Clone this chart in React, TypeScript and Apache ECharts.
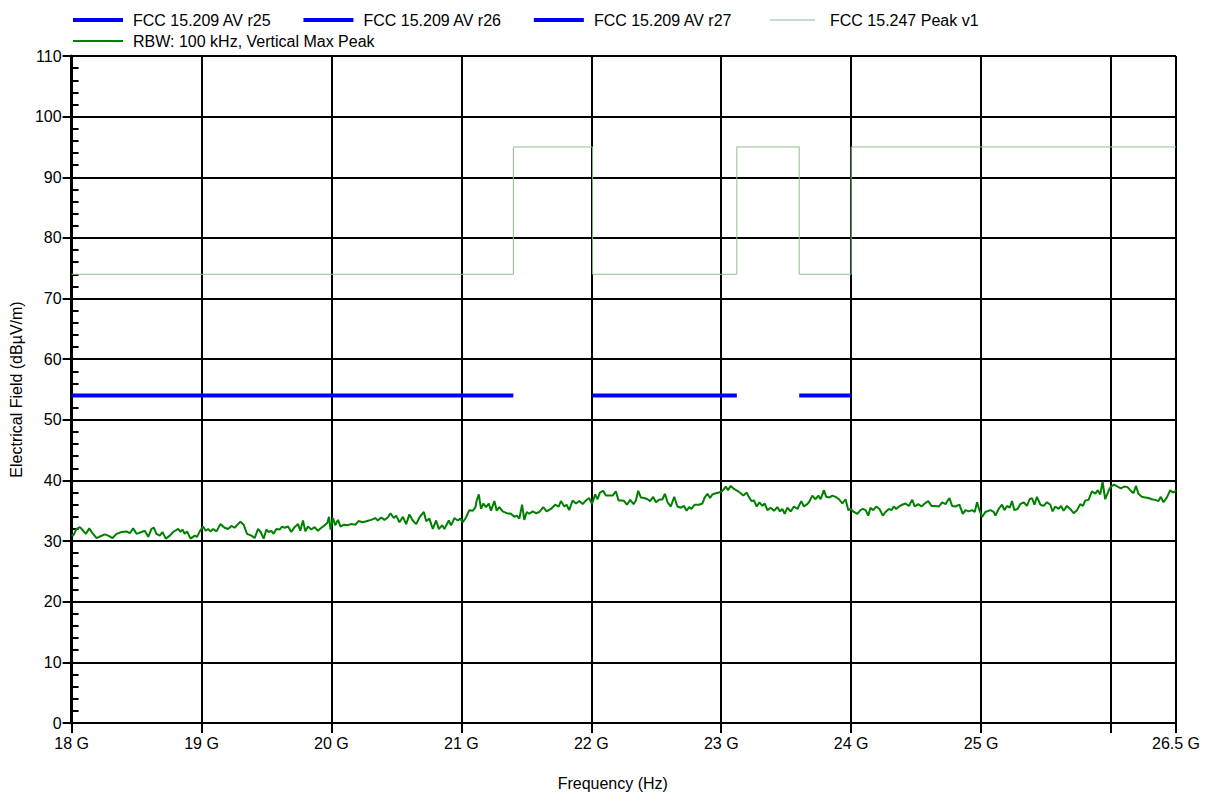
import React, { useEffect, useRef } from "react";
import * as echarts from "echarts";

const xMin = 18;
const xMax = 26.5;
const yMin = 0;
const yMax = 110;

const limitR25Freq = [18, 21.4];
const limitR26Freq = [22.01, 23.12];
const limitR27Freq = [23.6, 24.0];
const avLimit = 54;

const peakFreq = [18, 21.4, 21.4, 22.01, 22.01, 23.12, 23.12, 23.6, 23.6, 24.0, 24.0, 26.5];
const peakLevel = [74, 74, 95, 95, 74, 74, 95, 95, 74, 74, 95, 95];

const traceFreq = [
  18.0, 18.013, 18.038, 18.064, 18.09, 18.11, 18.136, 18.161, 18.192, 18.223, 18.256, 18.282, 18.315, 18.346, 18.384,
  18.423, 18.448, 18.474, 18.5, 18.538, 18.563, 18.59, 18.615, 18.633, 18.653, 18.679, 18.699, 18.725, 18.756, 18.782,
  18.82, 18.838, 18.853, 18.871, 18.889, 18.915, 18.948, 18.966, 18.986, 19.012, 19.032, 19.051, 19.068, 19.089, 19.115,
  19.145, 19.178, 19.204, 19.23, 19.255, 19.299, 19.324, 19.35, 19.384, 19.409, 19.435, 19.455, 19.478, 19.499, 19.517,
  19.537, 19.555, 19.576, 19.601, 19.62, 19.64, 19.666, 19.691, 19.716, 19.743, 19.76, 19.781, 19.799, 19.819, 19.845,
  19.87, 19.896, 19.922, 19.947, 19.968, 19.981, 19.993, 20.012, 20.029, 20.05, 20.07, 20.096, 20.121, 20.152, 20.183,
  20.208, 20.242, 20.275, 20.306, 20.337, 20.357, 20.383, 20.408, 20.434, 20.454, 20.48, 20.498, 20.523, 20.55, 20.575,
  20.6, 20.626, 20.652, 20.677, 20.711, 20.729, 20.754, 20.78, 20.806, 20.826, 20.852, 20.869, 20.903, 20.921, 20.946,
  20.972, 20.99, 21.011, 21.036, 21.061, 21.088, 21.108, 21.118, 21.134, 21.151, 21.169, 21.19, 21.211, 21.228, 21.254,
  21.272, 21.292, 21.318, 21.349, 21.382, 21.407, 21.426, 21.446, 21.467, 21.484, 21.503, 21.523, 21.549, 21.574, 21.6,
  21.63, 21.656, 21.689, 21.722, 21.749, 21.766, 21.792, 21.81, 21.83, 21.856, 21.882, 21.907, 21.933, 21.958, 21.984,
  22.005, 22.03, 22.048, 22.066, 22.091, 22.112, 22.138, 22.164, 22.189, 22.21, 22.235, 22.253, 22.274, 22.299, 22.325,
  22.343, 22.361, 22.381, 22.407, 22.433, 22.453, 22.476, 22.497, 22.522, 22.548, 22.566, 22.587, 22.612, 22.638, 22.663,
  22.689, 22.714, 22.733, 22.753, 22.771, 22.796, 22.829, 22.855, 22.873, 22.894, 22.914, 22.932, 22.958, 22.983, 23.009,
  23.035, 23.052, 23.073, 23.098, 23.124, 23.15, 23.17, 23.196, 23.214, 23.234, 23.252, 23.273, 23.294, 23.317, 23.334,
  23.355, 23.38, 23.406, 23.432, 23.452, 23.47, 23.488, 23.509, 23.534, 23.56, 23.586, 23.616, 23.636, 23.662, 23.675,
  23.701, 23.726, 23.747, 23.765, 23.79, 23.808, 23.834, 23.855, 23.88, 23.906, 23.932, 23.957, 23.978, 23.995, 24.021,
  24.047, 24.072, 24.09, 24.111, 24.131, 24.149, 24.17, 24.193, 24.218, 24.244, 24.264, 24.29, 24.31, 24.328, 24.347,
  24.367, 24.393, 24.418, 24.444, 24.47, 24.49, 24.516, 24.541, 24.566, 24.593, 24.618, 24.649, 24.674, 24.7, 24.726,
  24.756, 24.777, 24.802, 24.833, 24.859, 24.879, 24.905, 24.931, 24.951, 24.969, 24.987, 25.008, 25.033, 25.071, 25.097,
  25.11, 25.135, 25.161, 25.179, 25.2, 25.22, 25.238, 25.256, 25.281, 25.302, 25.327, 25.353, 25.373, 25.392, 25.41,
  25.43, 25.456, 25.481, 25.507, 25.533, 25.55, 25.571, 25.597, 25.615, 25.635, 25.661, 25.686, 25.712, 25.738, 25.763,
  25.784, 25.802, 25.827, 25.853, 25.879, 25.896, 25.917, 25.935, 25.955, 25.981, 25.999, 26.024, 26.05, 26.076, 26.101,
  26.127, 26.148, 26.173, 26.192, 26.211, 26.237, 26.263, 26.288, 26.314, 26.339, 26.365, 26.383, 26.404, 26.43, 26.456,
  26.476, 26.494, 26.5,
];

const traceLevel = [
  31.0, 30.9, 32.0, 32.3, 31.7, 31.2, 32.1, 31.3, 30.5, 30.8, 31.1, 30.9, 30.5, 31.2, 31.5,
  31.6, 31.3, 32.1, 31.2, 31.5, 31.7, 30.7, 32.0, 32.2, 31.2, 30.9, 31.5, 30.4, 30.9, 31.5,
  32.0, 31.5, 31.9, 31.2, 31.6, 30.4, 30.9, 30.7, 31.6, 32.4, 31.7, 32.0, 31.6, 32.0, 31.6,
  32.8, 32.2, 32.0, 32.5, 32.2, 33.2, 32.7, 31.2, 30.9, 30.5, 32.0, 31.5, 30.4, 31.9, 31.5,
  31.7, 31.2, 32.0, 31.9, 32.4, 32.2, 32.4, 31.5, 32.3, 32.8, 31.7, 33.4, 31.6, 32.4, 31.9,
  32.3, 31.7, 32.2, 32.6, 33.0, 34.0, 31.9, 33.8, 32.6, 33.5, 32.4, 32.7, 32.6, 32.8, 32.7,
  33.3, 33.1, 33.3, 33.5, 33.8, 33.4, 33.9, 33.5, 33.9, 34.6, 33.8, 34.2, 33.1, 34.0, 32.8,
  34.4, 33.4, 32.8, 33.9, 34.8, 33.3, 33.7, 32.0, 33.4, 32.0, 32.6, 32.0, 33.4, 32.6, 33.8,
  33.4, 33.7, 33.1, 33.9, 35.1, 35.0, 35.6, 36.7, 37.7, 35.3, 36.2, 35.6, 36.2, 35.0, 36.6,
  35.0, 35.6, 34.9, 34.6, 34.5, 34.0, 34.2, 33.7, 36.0, 33.5, 34.8, 34.5, 34.9, 34.6, 34.8,
  35.6, 34.9, 35.3, 36.0, 35.7, 36.6, 35.7, 36.0, 35.1, 36.7, 36.2, 36.6, 36.1, 36.7, 37.1,
  36.1, 37.7, 36.9, 38.0, 38.3, 37.5, 37.5, 37.5, 38.2, 36.7, 36.7, 36.6, 36.0, 36.8, 36.1,
  36.7, 38.3, 37.2, 37.1, 36.9, 36.6, 37.3, 36.4, 36.8, 36.9, 37.8, 36.4, 35.7, 37.3, 35.7,
  35.5, 35.8, 35.0, 35.6, 35.3, 36.0, 36.0, 36.2, 37.2, 37.8, 37.1, 37.7, 37.9, 38.0, 38.3,
  39.0, 38.4, 39.1, 38.6, 38.3, 37.9, 37.5, 38.0, 37.2, 36.6, 36.7, 35.7, 36.4, 35.8, 36.2,
  35.1, 35.5, 35.0, 35.6, 34.9, 35.3, 34.5, 35.5, 34.9, 35.7, 35.3, 36.6, 35.7, 36.1, 36.4,
  37.5, 36.9, 37.5, 36.9, 38.4, 37.3, 37.2, 37.5, 37.3, 36.9, 36.2, 36.9, 35.1, 35.3, 34.8,
  34.5, 35.1, 35.3, 35.1, 34.2, 35.5, 35.1, 35.7, 35.3, 34.2, 34.8, 35.3, 35.1, 35.7, 35.3,
  35.7, 36.0, 36.2, 35.8, 36.8, 35.7, 36.1, 35.7, 36.2, 36.6, 35.8, 35.8, 35.7, 36.4, 36.1,
  37.1, 35.8, 35.7, 36.0, 34.5, 35.1, 34.9, 35.1, 34.8, 36.4, 35.1, 34.0, 34.8, 35.1, 34.8,
  34.2, 35.3, 36.0, 35.1, 35.8, 35.5, 36.6, 35.1, 35.3, 36.1, 36.4, 35.8, 36.9, 37.1, 36.0,
  37.3, 36.0, 35.8, 36.4, 36.0, 34.9, 35.7, 35.3, 35.8, 35.0, 35.8, 35.3, 34.6, 35.1, 36.1,
  35.8, 36.7, 36.8, 38.2, 37.8, 38.4, 37.7, 39.8, 36.9, 38.3, 39.0, 39.3, 39.0, 38.7, 39.0,
  38.9, 38.4, 37.9, 39.1, 37.8, 37.3, 37.2, 37.1, 36.9, 36.8, 36.6, 37.3, 36.4, 37.2, 38.4,
  38.0, 38.2, 38.4,
];

const avNames = ["FCC 15.209 AV r25", "FCC 15.209 AV r26", "FCC 15.209 AV r27"];
const peakName = "FCC 15.247 Peak v1";
const traceName = "RBW: 100 kHz, Vertical Max Peak";
const xAxisTitle = "Frequency (Hz)";
const yAxisTitle = "Electrical Field (dBµV/m)";

const FONT = "'Liberation Sans', Arial, sans-serif";
const BLUE = "#0000ff";
const PEAK = "#8fbf8f";
const TRACE = "#008000";

export default function App() {
  const ref = useRef<HTMLDivElement>(null);

  useEffect(() => {
    document.body.style.margin = "0";
    const chart = echarts.init(ref.current!, null, { renderer: "svg" });

    const pairs = (xs: number[], ys: number[]) => xs.map((x, i) => [x, ys[i]]);
    const flat = (xs: number[], v: number) => xs.map((x) => [x, v]);
    const legendText = { fontSize: 16, color: "#000", fontFamily: FONT, padding: [0, 0, 0, 5] };

    const option: any = {
      animation: false,
      backgroundColor: "#ffffff",
      textStyle: { fontFamily: FONT, color: "#000" },
      legend: [
        {
          data: avNames.map((n) => ({ name: n, icon: "rect" })),
          left: 68,
          top: 7,
          itemWidth: 50,
          itemHeight: 4,
          itemGap: 32,
          textStyle: legendText,
        },
        {
          data: [{ name: peakName, icon: "rect" }],
          left: 765,
          top: 7,
          itemWidth: 45,
          itemHeight: 1,
          textStyle: { ...legendText, padding: [0, 0, 0, 10] },
        },
        {
          data: [{ name: traceName, icon: "rect" }],
          left: 68,
          top: 28,
          itemWidth: 50,
          itemHeight: 2,
          textStyle: legendText,
        },
      ],
      grid: { left: 70, right: 29, top: 56, bottom: 69, containLabel: false },
      xAxis: {
        type: "value",
        min: xMin,
        max: xMax,
        interval: 1,
        name: xAxisTitle,
        nameLocation: "middle",
        nameGap: 52,
        nameTextStyle: { fontSize: 16, color: "#000", fontFamily: FONT, padding: [0, 22, 0, 0] },
        axisLine: { show: true, onZero: false, lineStyle: { color: "#000", width: 2 } },
        axisTick: { show: true, inside: false, length: 10, lineStyle: { color: "#000", width: 2 } },
        axisLabel: {
          show: true,
          margin: 12,
          fontSize: 16,
          color: "#000",
          fontFamily: FONT,
          showMinLabel: true,
          showMaxLabel: true,
          formatter: (v: number) => (v === 26 ? "" : `${v} G`),
        },
        splitLine: { show: true, lineStyle: { color: "#000", width: 2 } },
      },
      yAxis: [
        {
          type: "value",
          min: yMin,
          max: yMax,
          interval: 10,
          name: yAxisTitle,
          nameLocation: "middle",
          nameGap: 44,
          nameTextStyle: { fontSize: 16, color: "#000", fontFamily: FONT },
          axisLine: { show: true, lineStyle: { color: "#000", width: 3 } },
          axisTick: { show: true, inside: false, length: 9, lineStyle: { color: "#000", width: 2 } },
          axisLabel: { margin: 10, fontSize: 16, color: "#000", fontFamily: FONT },
          splitLine: { show: true, lineStyle: { color: "#000", width: 2 } },
        },
        {
          type: "value",
          min: yMin,
          max: yMax,
          interval: 10,
          position: "left",
          axisLine: { show: false },
          axisTick: { show: true, inside: true, length: 7, lineStyle: { color: "#000", width: 2 } },
          minorTick: { show: true, splitNumber: 5, length: 7, lineStyle: { color: "#000", width: 2 } },
          axisLabel: { show: false },
          splitLine: { show: false },
        },
      ],
      series: [
        ...avNames.map((n, i) => ({
          name: n,
          type: "line",
          data: flat([limitR25Freq, limitR26Freq, limitR27Freq][i], avLimit),
          showSymbol: false,
          symbol: "none",
          lineStyle: { color: BLUE, width: 4 },
          itemStyle: { color: BLUE },
          z: 3,
        })),
        {
          name: peakName,
          type: "line",
          data: pairs(peakFreq, peakLevel),
          showSymbol: false,
          symbol: "none",
          lineStyle: { color: PEAK, width: 1 },
          itemStyle: { color: PEAK },
          z: 2,
        },
        {
          name: traceName,
          type: "line",
          data: pairs(traceFreq, traceLevel),
          showSymbol: false,
          symbol: "none",
          lineStyle: { color: TRACE, width: 2 },
          itemStyle: { color: TRACE },
          z: 4,
        },
      ],
    };

    chart.setOption(option);
    return () => {
      chart.dispose();
    };
  }, []);

  return <div ref={ref} style={{ width: 1205, height: 796 }} />;
}
